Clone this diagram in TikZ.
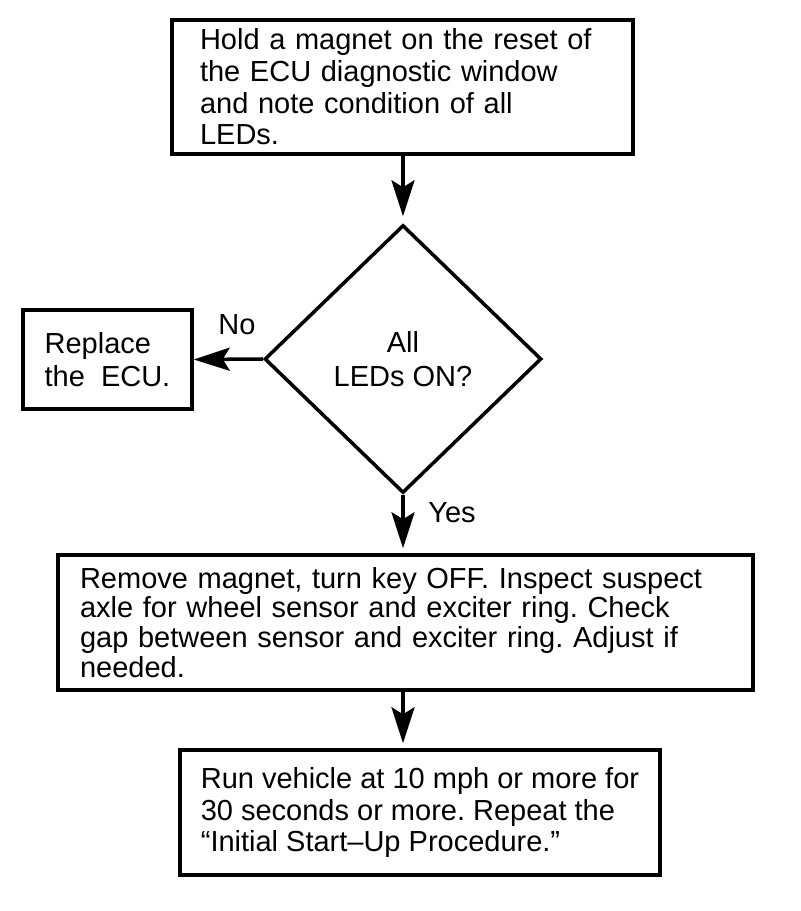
\documentclass[tikz,border=0pt]{standalone}
\usepackage{fontspec}
\setmainfont{Liberation Sans}
\usetikzlibrary{shapes.geometric,arrows.meta}
\frenchspacing

\begin{document}
\begin{tikzpicture}[x=0.02cm,y=-0.02cm,
	procbox/.style={draw,line width=2pt,align=left,inner ysep=0pt,font=\fontsize{16.5}{#1}\selectfont},
	procbox/.default=17.5,
	decision/.style={draw,shape=diamond,line width=2pt,inner sep=0pt,align=center,minimum width=5.54cm,minimum height=5.36cm,font=\fontsize{16.5}{19}\selectfont},
	flowarrow/.style={line width=2pt,-{Stealth[length=0.72cm,width=0.46cm,inset=0.14cm]}},
	lbl/.style={inner sep=0pt,font=\fontsize{16.5}{17.5}\selectfont}]
		\useasboundingbox (0,0) rectangle (800,911);
		
		% the boxes of the chart
		\node[procbox=18,minimum width=9.22cm,minimum height=2.68cm,text width=8.1cm,inner xsep=0.56cm] (hold) at (402.5,87)
			{Hold a magnet on the reset of\\the ECU diagnostic window\\and note condition of all\\LEDs.};
		\node[decision] (leds) at (403,359) {All\\LEDs ON?};
		\node[procbox=19,minimum width=3.38cm,minimum height=1.98cm] (ecu) at (107.5,359.5)
			{Replace\\the\ \ ECU.};
		\node[procbox=17,minimum width=13.9cm,minimum height=2.7cm,text width=13.02cm,inner xsep=0.44cm] (inspect) at (405.5,622.5)
			{Remove magnet, turn key OFF. Inspect suspect\\axle for wheel sensor and exciter ring. Check\\gap between sensor and exciter ring. Adjust if\\needed.};
		\node[procbox=18,minimum width=9.6cm,minimum height=2.5cm] (run) at (420,812.5)
			{Run vehicle at 10 mph or more for\\30 seconds or more. Repeat the\\“Initial Start–Up Procedure.”};
		
		% labels of the two ways out of the test
		\node[lbl,anchor=base west] (no) at (218,335) {No};
		\node[lbl,anchor=base west] (yes) at (428,522) {Yes};
		
		% arrows
		\draw[flowarrow,shorten >=0.14cm] (hold.south -| leds.north) -- (leds.north);
		\draw[flowarrow] (leds.west) -- (ecu.east);
		\draw[flowarrow,shorten >=0.1cm] (leds.south) -- (leds.south |- inspect.north);
		\draw[flowarrow,shorten >=0.1cm] (inspect.south -| leds.south) -- (leds.south |- run.north);
\end{tikzpicture}
\end{document}
